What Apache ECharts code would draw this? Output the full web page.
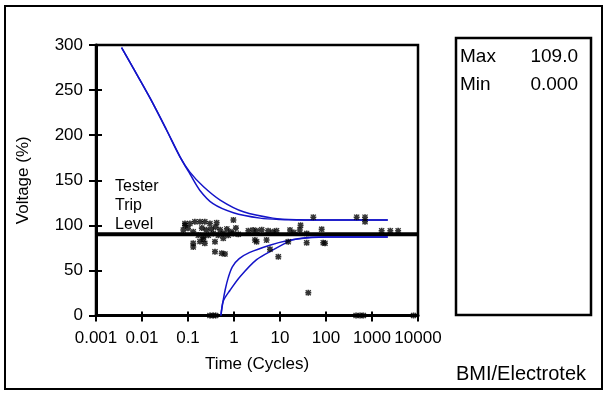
<!DOCTYPE html>
<html>
<head>
<meta charset="utf-8">
<script src="https://cdn.jsdelivr.net/npm/echarts@6/dist/echarts.min.js"></script>
<style>
html,body{margin:0;padding:0;background:#fff;}
#chart{width:613px;height:398px;}
</style>
</head>
<body>
<div id="chart"></div>
<script>
// ---- data ----
const xTickLabels = ['0.001','0.01','0.1','1','10','100','1000','10000'];
const xMin = 0.001, xMax = 10000;
const yMin = 0, yMax = 300, yInterval = 50;
const tripLevel = 90;
const tripLabel = ['Tester','Trip','Level'];
const xName = 'Time (Cycles)';
const yName = 'Voltage (%)';
const credit = 'BMI/Electrotek';

// upper envelope curves [cycles, %]
const upperCurveA = [[0.0036,297],[0.0065,274],[0.015,241],[0.034,206],[0.067,176],[0.11,157],[0.18,139],[0.35,124],[0.97,114],[3.7,108],[10,106.4],[30,106],[2200,106]];
const upperCurveB = [[0.0036,297],[0.0065,274],[0.015,241],[0.034,206],[0.067,176],[0.11,159],[0.215,143],[0.5,128],[1.6,115],[7,108],[25,106.2],[60,106],[2200,106]];
// lower envelope curves
const lowerCurveC = [[0.52,0],[0.57,14],[0.64,28],[0.75,42],[0.92,54],[1.3,63],[2.2,70],[6,78],[14,83],[40,86.5],[100,87],[2200,87]];
const lowerCurveD = [[0.52,0],[0.585,16],[0.82,28],[1.35,43],[3.1,62],[7.2,73],[15,82],[19,84],[50,86.5],[100,87],[2200,87]];

// measured events [cycles, %]
const events = [[0.079,94.8],[0.086,100],[0.086,102],[0.1,96.7],[0.11,102],[0.13,93],[0.13,80],[0.13,76],[0.141,104],[0.167,89],[0.182,104],[0.182,82],[0.2,97],[0.215,87.4],[0.215,84.5],[0.232,104],[0.232,80],[0.25,95],[0.276,89],[0.3,102],[0.32,96],[0.355,91],[0.386,81.9],[0.386,70.8],[0.4,98],[0.42,103],[0.457,89],[0.5,95],[0.54,69],[0.585,91],[0.585,85.6],[0.637,68.2],[0.7,96],[0.75,89],[0.85,93],[0.966,91],[0.97,105.9],[1.1,97],[1.24,90],[2.05,94],[2.6,94.8],[2.85,83.7],[3.1,94],[3.1,81.9],[4,95],[5.1,83.7],[5.5,94],[6.06,73.4],[7,93],[8.4,94],[9.2,65.2],[15.1,81.9],[16.5,94.8],[20,92],[27,94.8],[28,100],[38,91],[38,80.7],[41.2,25.3],[53,109],[80.5,95.6],[87,80.7],[95,80],[464,109],[705,109],[705,104],[1620,94],[2500,94],[3700,94],[0.3,0],[0.35,0],[0.4,0],[450,0],[550,0],[650,0],[8000,0]];

const statNames = ['Max','Min'];
const statValues = ['109.0','0.000'];

// ---- chart ----
const FONT = '"Liberation Sans", Arial, sans-serif';
const chart = echarts.init(document.getElementById('chart'), null, {renderer:'canvas'});
const blue = '#1414c8';
const star = 'path://M3.6,0h2.8v10h-2.8z M0,3.6h10v2.8h-10z M1.5,0l8.5,8.5l-1.5,1.5l-8.5-8.5z M8.5,0l1.5,1.5l-8.5,8.5l-1.5-1.5z';

const axisCommonX = {type:'log', logBase:10, min:xMin, max:xMax, splitNumber:7};
const axisCommonY = {type:'value', min:yMin, max:yMax, interval:yInterval};

const graphics = [
  {type:'rect', shape:{x:5,y:6,width:597,height:383}, style:{fill:null, stroke:'#000', lineWidth:2}, silent:true},
  {type:'rect', shape:{x:456,y:38,width:135,height:277}, style:{fill:null, stroke:'#000', lineWidth:2.5}, silent:true},
  {type:'text', left:456, top:364, style:{text:credit, font:'20px '+FONT, fill:'#000'}}
];
statNames.forEach((n,i)=>{
  graphics.push({type:'text', x:460, y:57+i*28, style:{text:n, font:'19px '+FONT, fill:'#000', textVerticalAlign:'middle', textAlign:'left'}});
  graphics.push({type:'text', x:578, y:57+i*28, style:{text:statValues[i], font:'19px '+FONT, fill:'#000', textVerticalAlign:'middle', textAlign:'right'}});
});
tripLabel.forEach((t,i)=>{
  graphics.push({type:'text', x:115, y:187+i*19, style:{text:t, font:'16px '+FONT, fill:'#000', textVerticalAlign:'middle', textAlign:'left'}});
});

chart.setOption({
  animation:false,
  backgroundColor:'#fff',
  textStyle:{fontFamily:FONT},
  grid:{left:96, top:45, right:195, bottom:82.5, show:true, borderColor:'#000', borderWidth:2.5, backgroundColor:'transparent'},
  xAxis:[
    Object.assign({}, axisCommonX, {
      position:'bottom',
      name:xName, nameLocation:'middle', nameGap:40,
      nameTextStyle:{fontSize:17, color:'#000', fontFamily:FONT},
      axisLine:{show:true, lineStyle:{color:'#000', width:3}},
      axisTick:{show:true, inside:false, length:6, lineStyle:{color:'#000', width:2}},
      axisLabel:{show:true, margin:14, fontSize:17, color:'#000', fontFamily:FONT, hideOverlap:false,
        formatter:function(v){ const e=Math.round(Math.log10(v)); return xTickLabels[e+3] || ''; }},
      splitLine:{show:false}, minorTick:{show:false}
    }),
    Object.assign({}, axisCommonX, {
      position:'bottom',
      axisLine:{show:false},
      axisTick:{show:true, inside:true, length:4, lineStyle:{color:'#000', width:2}},
      axisLabel:{show:false}, splitLine:{show:false}
    })
  ],
  yAxis:[
    Object.assign({}, axisCommonY, {
      position:'left',
      name:yName, nameLocation:'middle', nameGap:64,
      nameTextStyle:{fontSize:17, color:'#000', fontFamily:FONT},
      axisLine:{show:true, lineStyle:{color:'#000', width:3}},
      axisTick:{show:true, inside:false, length:7, lineStyle:{color:'#000', width:2}},
      axisLabel:{show:true, margin:13, fontSize:17, color:'#000', fontFamily:FONT},
      splitLine:{show:false}
    }),
    Object.assign({}, axisCommonY, {
      position:'left', offset:0,
      axisLine:{show:false},
      axisTick:{show:true, inside:true, length:6, lineStyle:{color:'#000', width:2}},
      axisLabel:{show:false}, splitLine:{show:false}
    })
  ],
  series:[
    {type:'line', name:'trip', data:[[xMin,tripLevel],[xMax,tripLevel]], symbol:'none',
      lineStyle:{color:'#000', width:4}, z:2, silent:true},
    {type:'line', data:upperCurveA, symbol:'none', smooth:0.3, lineStyle:{color:blue, width:1.5}, z:3, silent:true},
    {type:'line', data:upperCurveB, symbol:'none', smooth:0.3, lineStyle:{color:blue, width:1.5}, z:3, silent:true},
    {type:'line', data:lowerCurveC, symbol:'none', smooth:0.3, lineStyle:{color:blue, width:1.5}, z:3, silent:true},
    {type:'line', data:lowerCurveD, symbol:'none', smooth:0.3, lineStyle:{color:blue, width:1.5}, z:3, silent:true},
    {type:'scatter', data:events, symbol:star, symbolSize:6, itemStyle:{color:'#000'}, z:4, silent:true}
  ],
  graphic:graphics
});
</script>
</body>
</html>
